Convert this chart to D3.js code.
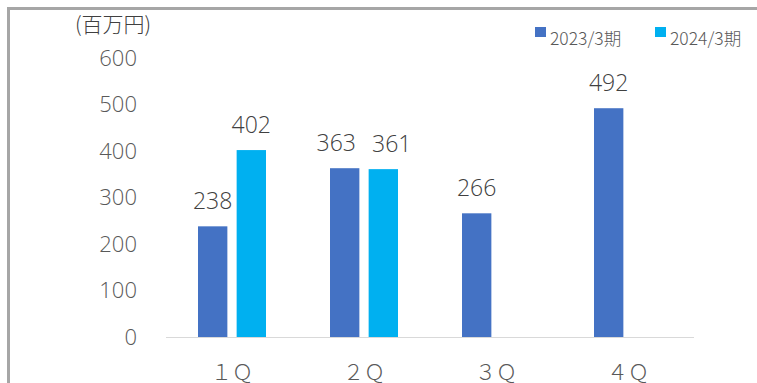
<!DOCTYPE html>
<html>
<head>
<meta charset="utf-8">
<script src="https://cdn.jsdelivr.net/npm/d3@7"></script>
<style>
  html, body { margin: 0; padding: 0; background: #fff; }
  svg { display: block; }
  text { font-family: "Noto Sans CJK JP", "Noto Sans", sans-serif; font-weight: 300; }
  .num { font-family: "Open Sans", "Noto Sans CJK JP", sans-serif; font-weight: 300; }
</style>
</head>
<body>
<svg id="chart" width="757" height="383"></svg>
<script>
// Quarterly sales (millions of yen)
const categories = ["１Ｑ", "２Ｑ", "３Ｑ", "４Ｑ"];
const seriesNames = ["2023/3期", "2024/3期"];
const sales2023 = [238, 363, 266, 492];
const sales2024 = [402, 361, null, null];
const yTicks = [0, 100, 200, 300, 400, 500, 600];
const unitLabel = "(百万円)";
const colors = ["#4472C4", "#00B0F0"];

const svg = d3.select("#chart");
const W = 757, H = 383;

// outer frame (top and left edges)
svg.append("path")
  .attr("d", `M8.5,${H} L8.5,8.5 L${W},8.5`)
  .attr("fill", "none")
  .attr("stroke", "#a6a6a6")
  .attr("stroke-width", 3);

const x = d3.scaleBand().domain(categories).range([166, 694]).padding(0);
const groupW = 68;
const xs = d3.scaleBand().domain(seriesNames)
  .range([(x.bandwidth() - groupW) / 2, (x.bandwidth() + groupW) / 2])
  .paddingInner(0.24);
const y = d3.scaleLinear().domain([0, 600]).range([337, 58]);

// y axis labels
const yAxis = svg.append("g").attr("transform", "translate(137,0)")
  .call(d3.axisLeft(y).tickValues(yTicks).tickSize(0).tickPadding(0).tickFormat(d3.format("d")));
yAxis.select(".domain").remove();
yAxis.selectAll("text")
  .attr("class", "num")
  .attr("fill", "#595959")
  .attr("font-family", null)
  .attr("font-size", null)
  .style("font-size", "22px");

// unit label
svg.append("text").attr("x", 113).attr("y", 32)
  .attr("text-anchor", "middle")
  .attr("fill", "#404040")
  .style("font-size", "21px")
  .text(unitLabel);

// bars
const data = categories.map((c, i) => ({
  cat: c,
  values: [sales2023[i], sales2024[i]]
}));

const groups = svg.append("g").selectAll("g").data(data).join("g")
  .attr("transform", d => `translate(${x(d.cat)},0)`);

const entries = d => d.values.map((v, j) => ({ name: seriesNames[j], v, j })).filter(e => e.v != null);

groups.selectAll("rect")
  .data(entries)
  .join("rect")
  .attr("x", e => xs(e.name))
  .attr("width", xs.bandwidth())
  .attr("y", e => y(e.v))
  .attr("height", e => y(0) - y(e.v))
  .attr("fill", e => colors[e.j]);

groups.each(function () {
  const labels = d3.select(this).selectAll("text.val")
    .data(entries)
    .join("text")
    .attr("class", "val num")
    .attr("x", e => xs(e.name) + xs.bandwidth() / 2)
    .attr("y", e => y(e.v) - 17)
    .attr("text-anchor", "middle")
    .attr("fill", "#404040")
    .style("font-size", "23px")
    .text(e => e.v);

  // push apart neighbouring labels sitting at similar heights
  const nodes = labels.nodes();
  for (let k = 1; k < nodes.length; k++) {
    const a = nodes[k - 1].getBBox(), b = nodes[k].getBBox();
    const vOverlap = a.y < b.y + b.height && b.y < a.y + a.height;
    const gap = 16;
    const overlap = (a.x + a.width + gap) - b.x;
    if (vOverlap && overlap > 0) {
      d3.select(nodes[k - 1]).attr("x", +nodes[k - 1].getAttribute("x") - overlap / 2);
      d3.select(nodes[k]).attr("x", +nodes[k].getAttribute("x") + overlap / 2);
    }
  }
});

// baseline
svg.append("line")
  .attr("x1", 166).attr("x2", 694)
  .attr("y1", y(0) + 0.5).attr("y2", y(0) + 0.5)
  .attr("stroke", "#d9d9d9").attr("stroke-width", 1);

// category labels
const xAxis = svg.append("g").attr("transform", `translate(0,${y(0)})`)
  .call(d3.axisBottom(x).tickSize(0).tickPadding(0));
xAxis.select(".domain").remove();
xAxis.selectAll("text")
  .attr("dy", 0)
  .attr("y", 43)
  .attr("fill", "#595959")
  .attr("font-family", null)
  .attr("font-size", null)
  .style("font-size", "21px");

// legend
const legend = svg.append("g");
const legendX = [535, 655];
seriesNames.forEach((n, i) => {
  legend.append("rect").attr("x", legendX[i]).attr("y", 27)
    .attr("width", 11).attr("height", 10).attr("fill", colors[i]);
  legend.append("text").attr("x", legendX[i] + 15).attr("y", 45)
    .attr("fill", "#595959")
    .style("font-size", "17.5px")
    .text(n);
});
</script>
</body>
</html>
